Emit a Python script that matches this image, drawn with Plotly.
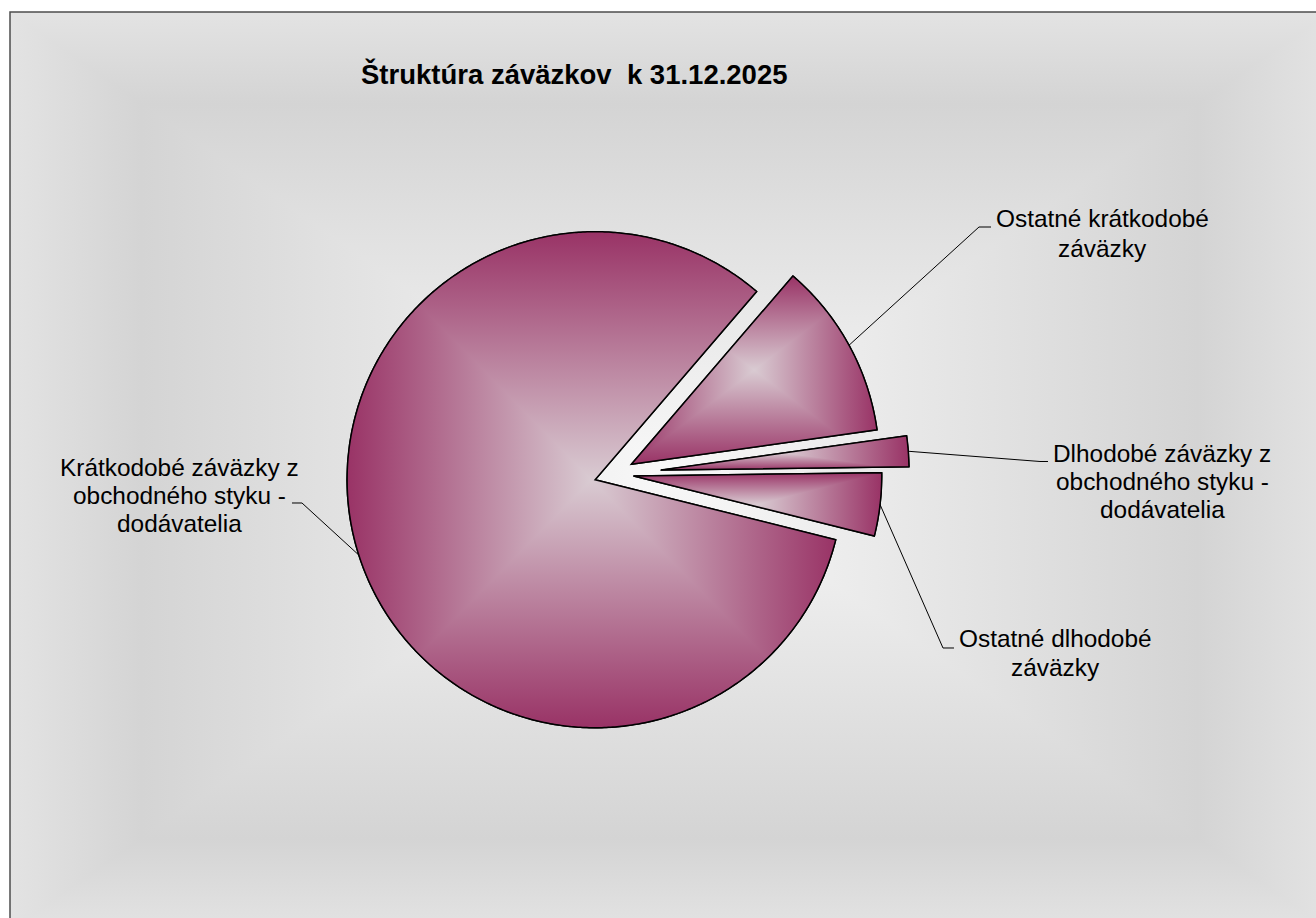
import base64
import math
import plotly.graph_objects as go

# ---------------- data ----------------
labels = [
    "Krátkodobé záväzky z obchodného styku - dodávatelia",
    "Ostatné krátkodobé záväzky",
    "Dlhodobé záväzky z obchodného styku - dodávatelia",
    "Ostatné dlhodobé záväzky",
]
label_lines = [
    ["Krátkodobé záväzky z", "obchodného styku -", "dodávatelia"],
    ["Ostatné krátkodobé", "záväzky"],
    ["Dlhodobé záväzky z", "obchodného styku -", "dodávatelia"],
    ["Ostatné dlhodobé", "záväzky"],
]
values = [82.4, 11.5, 2.0, 4.1]          # share in %
pulls = [0.08, 0.08, 0.19, 0.08]
title_text = "Štruktúra záväzkov\u00a0 k 31.12.2025"

# ---------------- layout constants (pixels) ----------------
W, H = 1316, 918
FONT = "Liberation Sans, Arial, Helvetica, sans-serif"
BASE = "#993366"
LIGHT = "#d9cbd2"
PIE_CX, PIE_CY, PIE_R = 614.0, 473.7, 248.0
ROTATION = 104.0
LABEL_X = [179, 1102, 1162, 1055]
LABEL_Y0 = [467.5, 218.8, 453.2, 638.2]
LABEL_STEP = [27.9, 29.4, 28.3, 29.3]
LABEL_SIZE = 24.4
ELBOWS = [[(302, 503), (292, 503)],
          [(979, 227), (991, 227)],
          [(1040, 461.5), (1048, 461.5)],
          [(943, 648), (954, 648)]]
BG_BOX = (10, 12, 1330, 930)


def fx(x):
    return x / W


def fy(y):
    return 1 - y / H


def b64svg(svg):
    return "data:image/svg+xml;base64," + base64.b64encode(svg.encode("utf-8")).decode("ascii")


# ---------------- pie geometry (mirrors plotly's pie layout) ----------------
maxpull = max(pulls)
half = PIE_R * (1 + maxpull)
dom_x = [(PIE_CX - half) / W, (PIE_CX + half) / W]
dom_y = [1 - (PIE_CY + half) / H, 1 - (PIE_CY - half) / H]

total = sum(values)
geo = []
a = ROTATION
for v, p in zip(values, pulls):
    span = 360.0 * v / total
    a0, a1 = a, a + span
    am = math.radians((a0 + a1) / 2)
    scx = PIE_CX + p * PIE_R * math.sin(am)
    scy = PIE_CY - p * PIE_R * math.cos(am)
    n = max(2, int(span * 2) + 1)
    arc = []
    for k in range(n + 1):
        t = math.radians(a0 + span * k / n)
        arc.append((scx + PIE_R * math.sin(t), scy - PIE_R * math.cos(t)))
    mid = (scx + PIE_R * math.sin(am), scy - PIE_R * math.cos(am))
    geo.append(dict(apex=(scx, scy), arc=arc, mid=mid))
    a = a1


def rect_gradient_svg(w, h, stops, clip_pts=None):
    """Rectangular 'from centre' gradient: left/right via a full rect, top/bottom triangles over it."""
    clip_def, g_open, g_close = "", "", ""
    if clip_pts is not None:
        cp = " ".join(f"{x:.2f},{y:.2f}" for x, y in clip_pts)
        clip_def = f'<clipPath id="c"><polygon points="{cp}"/></clipPath>'
        g_open, g_close = '<g clip-path="url(#c)">', '</g>'
    return (
        f'<svg xmlns="http://www.w3.org/2000/svg" width="{w:.2f}" height="{h:.2f}" '
        f'viewBox="0 0 {w:.2f} {h:.2f}" preserveAspectRatio="none">'
        f'<defs><linearGradient id="gx" gradientUnits="userSpaceOnUse" x1="0" y1="0" x2="{w:.2f}" y2="0">{stops}</linearGradient>'
        f'<linearGradient id="gy" gradientUnits="userSpaceOnUse" x1="0" y1="0" x2="0" y2="{h:.2f}">{stops}</linearGradient>'
        f'{clip_def}</defs>{g_open}'
        f'<rect x="0" y="0" width="{w:.2f}" height="{h:.2f}" fill="url(#gx)"/>'
        f'<polygon points="0,0 {w:.2f},0 {w/2:.2f},{h/2:.2f}" fill="url(#gy)"/>'
        f'<polygon points="0,{h:.2f} {w:.2f},{h:.2f} {w/2:.2f},{h/2:.2f}" fill="url(#gy)"/>'
        f'{g_close}</svg>'
    )


# ---------------- background (rectangular "from centre" gradient) ----------------
bx0, by0, bx1, by1 = BG_BOX
bw, bh = bx1 - bx0, by1 - by0
bg_stops = ('<stop offset="0" stop-color="#e3e3e3"/><stop offset="0.1" stop-color="#d4d4d4"/>'
            '<stop offset="0.5" stop-color="#f8f8f8"/><stop offset="0.9" stop-color="#d4d4d4"/>'
            '<stop offset="1" stop-color="#e3e3e3"/>')
images = [dict(source=b64svg(rect_gradient_svg(bw, bh, bg_stops)), xref="paper", yref="paper",
               x=fx(bx0), y=fy(by0), sizex=bw / W, sizey=bh / H, xanchor="left", yanchor="top",
               sizing="stretch", layer="below")]

# ---------------- slice shading (per-slice "from centre" gradient) ----------------
slice_stops = (f'<stop offset="0" stop-color="{BASE}"/><stop offset="0.5" stop-color="{LIGHT}"/>'
               f'<stop offset="1" stop-color="{BASE}"/>')
for g in geo:
    pts = [g["apex"]] + g["arc"]
    xs = [q[0] for q in pts]
    ys = [q[1] for q in pts]
    x0, x1, y0, y1 = min(xs), max(xs), min(ys), max(ys)
    rel = [(x - x0, y - y0) for x, y in pts]
    images.append(dict(source=b64svg(rect_gradient_svg(x1 - x0, y1 - y0, slice_stops, rel)),
                       xref="paper", yref="paper", x=fx(x0), y=fy(y0),
                       sizex=(x1 - x0) / W, sizey=(y1 - y0) / H,
                       xanchor="left", yanchor="top", sizing="stretch", layer="above"))

# ---------------- figure ----------------
fig = go.Figure(go.Pie(
    labels=labels, values=values, sort=False, direction="clockwise",
    rotation=ROTATION, pull=pulls,
    marker=dict(colors=[BASE] * len(values), line=dict(color="black", width=1.5)),
    textinfo="none", hoverinfo="label+percent", showlegend=False,
    domain=dict(x=dom_x, y=dom_y),
))

shapes = []
# slice outlines on top of the shading
for g in geo:
    pts = [g["apex"]] + g["arc"]
    path = "M " + " L ".join(f"{fx(x):.5f},{fy(y):.5f}" for x, y in pts) + " Z"
    shapes.append(dict(type="path", xref="paper", yref="paper", path=path,
                       line=dict(color="black", width=1.5), fillcolor="rgba(0,0,0,0)"))
# leader lines
for g, el in zip(geo, ELBOWS):
    pts = [g["mid"]] + el
    path = "M " + " L ".join(f"{fx(x):.5f},{fy(y):.5f}" for x, y in pts)
    shapes.append(dict(type="path", xref="paper", yref="paper", path=path,
                       line=dict(color="black", width=1)))
# chart border
shapes.append(dict(type="rect", xref="paper", yref="paper",
                   x0=fx(bx0), x1=fx(bx1), y0=fy(by0), y1=fy(by1),
                   line=dict(color="#4d4d4d", width=1.5), fillcolor="rgba(0,0,0,0)"))

annotations = [dict(text=f"<b>{title_text}</b>", x=fx(574.4), y=fy(73.8), xref="paper", yref="paper",
                    xanchor="center", yanchor="middle", showarrow=False,
                    font=dict(family=FONT, size=27.5, color="black"))]
for lines, lx, ly0, step in zip(label_lines, LABEL_X, LABEL_Y0, LABEL_STEP):
    for k, txt in enumerate(lines):
        annotations.append(dict(text=txt, x=fx(lx), y=fy(ly0 + k * step), xref="paper", yref="paper",
                                xanchor="center", yanchor="middle", showarrow=False,
                                font=dict(family=FONT, size=LABEL_SIZE, color="black")))

fig.update_layout(
    width=W, height=H, margin=dict(l=0, r=0, t=0, b=0),
    paper_bgcolor="white", showlegend=False,
    images=images, shapes=shapes, annotations=annotations,
)

fig.write_html("out.html")
